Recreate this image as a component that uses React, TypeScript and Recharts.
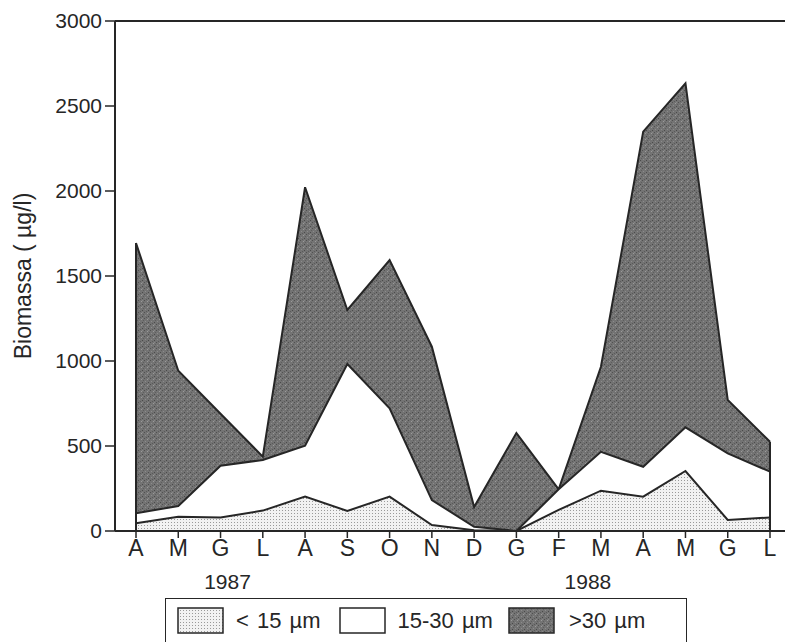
import React from 'react';
import { ComposedChart, Area, XAxis, YAxis, ReferenceLine } from 'recharts';

const months = ['A', 'M', 'G', 'L', 'A', 'S', 'O', 'N', 'D', 'G', 'F', 'M', 'A', 'M', 'G', 'L'];
const keys = months.map((m, i) => `${m}${i}`);
// cumulative biomass (µg/l): < 15 µm, < 30 µm (i.e. <15 + 15-30), total (incl. > 30 µm)
const below15 = [45, 84, 80, 120, 202, 118, 202, 35, 5, 0, 124, 237, 202, 353, 65, 80];
const below30 = [104, 147, 384, 418, 502, 982, 722, 182, 25, 0, 245, 466, 378, 610, 457, 349];
const totalBiomass = [1694, 943, 690, 437, 2022, 1300, 1594, 1084, 141, 576, 245, 966, 2349, 2633, 771, 525];
const yTicks = [0, 500, 1000, 1500, 2000, 2500, 3000];
const yearLabels: Record<number, { label: string; dx: number }> = {
  2: { label: '1987', dx: 7 },
  11: { label: '1988', dx: -13 },
};
const legendLabels = ['< 15 µm', '15-30 µm', '>30 µm'];

const data = keys.map((k, i) => ({
  key: k,
  small: below15[i],
  mid: below30[i],
  total: totalBiomass[i],
}));

const FONT = '"Liberation Sans", Arial, Helvetica, sans-serif';
const INK = '#262626';

const Patterns = ({ prefix }: { prefix: string }) => (
  <defs>
    <pattern id={`${prefix}-dots`} width="3" height="3" patternUnits="userSpaceOnUse">
      <rect width="3" height="3" fill="#f2f2f2" />
      <rect width="1" height="1" fill="#9a9a9a" />
    </pattern>
    <pattern id={`${prefix}-grain`} width="6" height="6" patternUnits="userSpaceOnUse">
      <rect width="6" height="6" fill="#737373" />
      <rect x="0" y="0" width="1" height="1" fill="#505050" />
      <rect x="3" y="1" width="1" height="1" fill="#9a9a9a" />
      <rect x="1" y="3" width="1" height="1" fill="#8c8c8c" />
      <rect x="4" y="4" width="1" height="1" fill="#4a4a4a" />
      <rect x="2" y="5" width="1" height="1" fill="#5a5a5a" />
      <rect x="5" y="2" width="1" height="1" fill="#5e5e5e" />
      <rect x="4" y="0" width="1" height="1" fill="#888" />
    </pattern>
  </defs>
);

const XTick = (props: any) => {
  const { x, y, payload, index } = props;
  const i = typeof index === 'number' ? index : keys.indexOf(payload.value);
  const year = yearLabels[i];
  return (
    <g>
      <text x={x} y={y} dy="0.71em" textAnchor="middle" fontSize={23} fill={INK} fontFamily={FONT}>
        {months[i]}
      </text>
      {year && (
        <text x={x + year.dx} y={y + 34} dy="0.71em" textAnchor="middle" fontSize={21} fill={INK} fontFamily={FONT}>
          {year.label}
        </text>
      )}
    </g>
  );
};

const Swatch = ({ kind }: { kind: number }) => (
  <svg width={47} height={27} style={{ display: 'block' }}>
    <Patterns prefix={`sw${kind}`} />
    <rect
      x={1}
      y={1}
      width={45}
      height={25}
      fill={kind === 0 ? `url(#sw${kind}-dots)` : kind === 1 ? '#fff' : `url(#sw${kind}-grain)`}
      stroke={INK}
      strokeWidth={1.5}
    />
  </svg>
);

export default function App() {
  return (
    <div style={{ position: 'absolute', left: 0, top: 0, width: 785, height: 642, background: '#fff', overflow: 'hidden' }}>
      <ComposedChart
        width={785}
        height={642}
        data={data}
        margin={{ top: 21, right: 0, bottom: 71, left: 0 }}
      >
        <Patterns prefix="chart" />
        <XAxis
          dataKey="key"
          type="category"
          height={40}
          padding={{ left: 21, right: 15 }}
          interval={0}
          tickSize={7}
          tickMargin={2}
          axisLine={{ stroke: INK, strokeWidth: 2 }}
          tickLine={{ stroke: INK, strokeWidth: 1.5 }}
          tick={<XTick />}
        />
        <YAxis
          type="number"
          domain={[0, 3000]}
          ticks={yTicks}
          width={115}
          tickSize={10}
          tickMargin={3}
          axisLine={{ stroke: INK, strokeWidth: 2 }}
          tickLine={{ stroke: INK, strokeWidth: 1.5 }}
          tick={{ fontSize: 21, fill: INK, fontFamily: FONT }}
          label={{
            value: 'Biomassa ( µg/l)',
            angle: -90,
            position: 'insideLeft',
            offset: 23,
            style: { textAnchor: 'middle', fontSize: 23, fill: INK, fontFamily: FONT },
          }}
        />
        <Area
          type="linear"
          dataKey="total"
          stroke={INK}
          strokeWidth={2}
          fill="url(#chart-grain)"
          fillOpacity={1}
          isAnimationActive={false}
          dot={false}
          activeDot={false}
        />
        <Area
          type="linear"
          dataKey="mid"
          stroke={INK}
          strokeWidth={2}
          fill="#ffffff"
          fillOpacity={1}
          isAnimationActive={false}
          dot={false}
          activeDot={false}
        />
        <Area
          type="linear"
          dataKey="small"
          stroke={INK}
          strokeWidth={2}
          fill="url(#chart-dots)"
          fillOpacity={1}
          isAnimationActive={false}
          dot={false}
          activeDot={false}
        />
        <ReferenceLine
          segment={[{ x: keys[0], y: 0 }, { x: keys[0], y: totalBiomass[0] }]}
          stroke={INK}
          strokeWidth={2}
        />
        <ReferenceLine
          segment={[
            { x: keys[keys.length - 1], y: 0 },
            { x: keys[keys.length - 1], y: totalBiomass[keys.length - 1] },
          ]}
          stroke={INK}
          strokeWidth={2}
        />
        <ReferenceLine y={3000} stroke={INK} strokeWidth={2} />
      </ComposedChart>
      <div
        style={{
          position: 'absolute',
          left: 165,
          top: 598,
          width: 522,
          height: 50,
          border: `1.5px solid ${INK}`,
          boxSizing: 'border-box',
          fontFamily: FONT,
          fontSize: 22,
          color: INK,
        }}
      >
        <div style={{ position: 'absolute', left: 11, top: 8, display: 'flex', alignItems: 'center' }}>
          {legendLabels.map((lab, i) => (
            <div key={lab} style={{ display: 'flex', alignItems: 'center', marginRight: i === 0 ? 18 : 15 }}>
              <Swatch kind={i} />
              <span style={{ marginLeft: i === 2 ? 14 : 12, whiteSpace: 'nowrap', wordSpacing: 2 }}>{lab}</span>
            </div>
          ))}
        </div>
      </div>
    </div>
  );
}
